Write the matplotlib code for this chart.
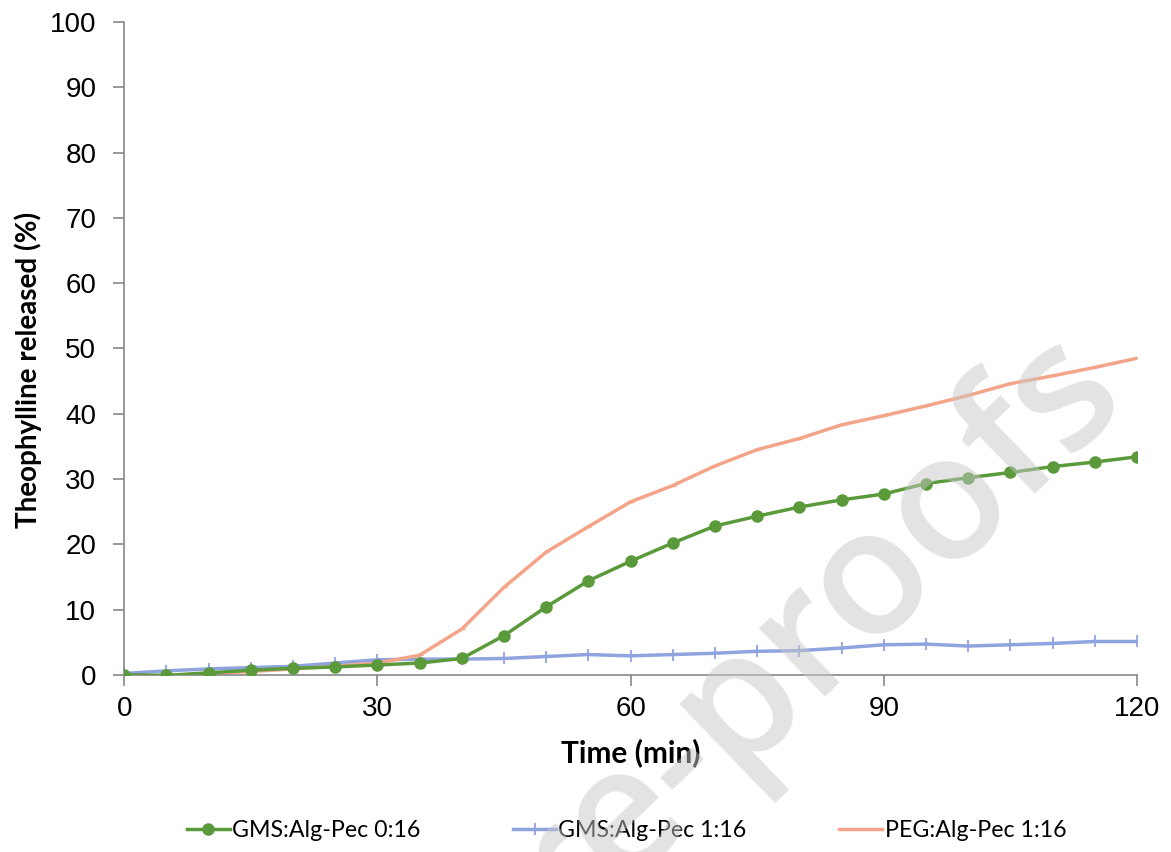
import matplotlib.pyplot as plt

time_min = [0, 5, 10, 15, 20, 25, 30, 35, 40, 45, 50, 55, 60, 65, 70, 75, 80, 85, 90, 95, 100, 105, 110, 115, 120]

gms_0_16 = [0.0, -0.1, 0.3, 0.7, 1.0, 1.2, 1.5, 1.8, 2.5, 6.0, 10.4, 14.4, 17.4, 20.2, 22.8, 24.3,
            25.7, 26.8, 27.7, 29.3, 30.2, 31.0, 31.9, 32.6, 33.4]
gms_1_16 = [0.2, 0.6, 0.9, 1.1, 1.3, 1.8, 2.3, 2.4, 2.4, 2.5, 2.8, 3.1, 2.9, 3.1, 3.3, 3.6,
            3.7, 4.1, 4.6, 4.7, 4.4, 4.6, 4.8, 5.1, 5.1]
peg_1_16 = [-0.2, -0.1, 0.2, 0.5, 0.9, 1.3, 1.8, 3.0, 7.0, 13.4, 18.8, 22.7, 26.5, 29.0, 32.0, 34.5,
            36.2, 38.3, 39.7, 41.2, 42.8, 44.6, 45.8, 47.1, 48.5]

labels = ["GMS:Alg-Pec 0:16", "GMS:Alg-Pec 1:16", "PEG:Alg-Pec 1:16"]

fig = plt.figure(figsize=(11.71, 8.52), dpi=100)
ax = fig.add_axes([0.106, 0.208, 0.865, 0.766])

ax.plot(time_min, gms_0_16, color="#5B9A3B", lw=2.5, marker="o", ms=8, label=labels[0], zorder=3)
ax.plot(time_min, gms_1_16, color="#8FA3DF", lw=2.5, marker="+", ms=9, mew=1.3, label=labels[1], zorder=2)
ax.plot(time_min, peg_1_16, color="#F4A488", lw=2.5, marker="_", ms=4, label=labels[2], zorder=2)

ax.set_xlim(0, 120)
ax.set_ylim(0, 100)
ax.set_xticks([0, 30, 60, 90, 120])
ax.set_yticks(range(0, 101, 10))
ax.spines["top"].set_visible(False)
ax.spines["right"].set_visible(False)
for s in ("left", "bottom"):
    ax.spines[s].set_color("#888888")
    ax.spines[s].set_linewidth(1.2)
ax.tick_params(axis="both", colors="#888888", length=8, width=1.2, labelcolor="black")
ax.tick_params(axis="x", pad=7)
ax.tick_params(axis="y", pad=12)
for lab in ax.get_xticklabels() + ax.get_yticklabels():
    lab.set_fontfamily("Liberation Sans")
    lab.set_fontsize(20)

ax.set_xlabel("Time (min)", fontsize=21.5, fontweight="bold", family="Lato", labelpad=12)
ax.set_ylabel("Theophylline released (%)", fontsize=20, fontweight="bold", family="Lato")
ax.yaxis.set_label_coords(-0.081, 0.467)

ax.legend(loc="upper center", bbox_to_anchor=(0.496, -0.19), ncol=3, frameon=False,
          prop={"family": "Lato", "size": 16.7}, handlelength=1.85, handletextpad=0.1,
          columnspacing=4.0)

# watermark from the source image
fig.text(0.695, 0.262, "re-proofs", fontsize=127, color="#c8c8c8", alpha=0.5, fontweight="semibold",
         rotation=44, ha="center", va="center", family="Open Sans", zorder=10)

fig.savefig("out.png", dpi=100)
